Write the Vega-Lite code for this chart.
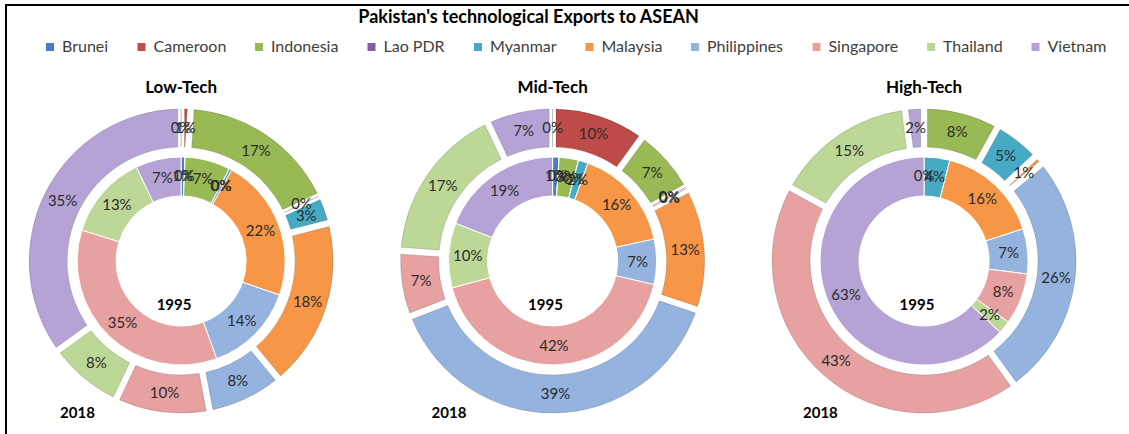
{
  "$schema": "https://vega.github.io/schema/vega-lite/v6.json",
  "width": 1127,
  "height": 512,
  "autosize": "none",
  "padding": {"left": 6, "top": 5, "right": -4, "bottom": -83},
  "background": "#ffffff",
  "config": {"font": "Lato", "view": {"stroke": "#000000", "strokeWidth": 2}},
  "datasets": {
    "shares": [
      {"tech": "Low-Tech", "year": "1995", "country": "Brunei", "n": 1, "share": 0.006},
      {"tech": "Low-Tech", "year": "1995", "country": "Cameroon", "n": 2, "share": 0},
      {"tech": "Low-Tech", "year": "1995", "country": "Indonesia", "n": 3, "share": 0.07},
      {"tech": "Low-Tech", "year": "1995", "country": "Lao PDR", "n": 4, "share": 0},
      {"tech": "Low-Tech", "year": "1995", "country": "Myanmar", "n": 5, "share": 0.004},
      {"tech": "Low-Tech", "year": "1995", "country": "Malaysia", "n": 6, "share": 0.22},
      {"tech": "Low-Tech", "year": "1995", "country": "Philippines", "n": 7, "share": 0.14},
      {"tech": "Low-Tech", "year": "1995", "country": "Singapore", "n": 8, "share": 0.35},
      {"tech": "Low-Tech", "year": "1995", "country": "Thailand", "n": 9, "share": 0.13},
      {"tech": "Low-Tech", "year": "1995", "country": "Vietnam", "n": 10, "share": 0.07},
      {"tech": "Low-Tech", "year": "2018", "country": "Brunei", "n": 1, "share": 0},
      {"tech": "Low-Tech", "year": "2018", "country": "Cameroon", "n": 2, "share": 0.01},
      {"tech": "Low-Tech", "year": "2018", "country": "Indonesia", "n": 3, "share": 0.17},
      {"tech": "Low-Tech", "year": "2018", "country": "Lao PDR", "n": 4, "share": 0},
      {"tech": "Low-Tech", "year": "2018", "country": "Myanmar", "n": 5, "share": 0.03},
      {"tech": "Low-Tech", "year": "2018", "country": "Malaysia", "n": 6, "share": 0.18},
      {"tech": "Low-Tech", "year": "2018", "country": "Philippines", "n": 7, "share": 0.08},
      {"tech": "Low-Tech", "year": "2018", "country": "Singapore", "n": 8, "share": 0.10},
      {"tech": "Low-Tech", "year": "2018", "country": "Thailand", "n": 9, "share": 0.08},
      {"tech": "Low-Tech", "year": "2018", "country": "Vietnam", "n": 10, "share": 0.35},
      {"tech": "Mid-Tech", "year": "1995", "country": "Brunei", "n": 1, "share": 0.01},
      {"tech": "Mid-Tech", "year": "1995", "country": "Cameroon", "n": 2, "share": 0},
      {"tech": "Mid-Tech", "year": "1995", "country": "Indonesia", "n": 3, "share": 0.03},
      {"tech": "Mid-Tech", "year": "1995", "country": "Lao PDR", "n": 4, "share": 0},
      {"tech": "Mid-Tech", "year": "1995", "country": "Myanmar", "n": 5, "share": 0.015},
      {"tech": "Mid-Tech", "year": "1995", "country": "Malaysia", "n": 6, "share": 0.16},
      {"tech": "Mid-Tech", "year": "1995", "country": "Philippines", "n": 7, "share": 0.07},
      {"tech": "Mid-Tech", "year": "1995", "country": "Singapore", "n": 8, "share": 0.42},
      {"tech": "Mid-Tech", "year": "1995", "country": "Thailand", "n": 9, "share": 0.10},
      {"tech": "Mid-Tech", "year": "1995", "country": "Vietnam", "n": 10, "share": 0.19},
      {"tech": "Mid-Tech", "year": "2018", "country": "Brunei", "n": 1, "share": 0},
      {"tech": "Mid-Tech", "year": "2018", "country": "Cameroon", "n": 2, "share": 0.10},
      {"tech": "Mid-Tech", "year": "2018", "country": "Indonesia", "n": 3, "share": 0.07},
      {"tech": "Mid-Tech", "year": "2018", "country": "Lao PDR", "n": 4, "share": 0},
      {"tech": "Mid-Tech", "year": "2018", "country": "Myanmar", "n": 5, "share": 0.003},
      {"tech": "Mid-Tech", "year": "2018", "country": "Malaysia", "n": 6, "share": 0.13},
      {"tech": "Mid-Tech", "year": "2018", "country": "Philippines", "n": 7, "share": 0.39},
      {"tech": "Mid-Tech", "year": "2018", "country": "Singapore", "n": 8, "share": 0.07},
      {"tech": "Mid-Tech", "year": "2018", "country": "Thailand", "n": 9, "share": 0.17},
      {"tech": "Mid-Tech", "year": "2018", "country": "Vietnam", "n": 10, "share": 0.07},
      {"tech": "High-Tech", "year": "1995", "country": "Indonesia", "n": 3, "share": 0},
      {"tech": "High-Tech", "year": "1995", "country": "Myanmar", "n": 5, "share": 0.04},
      {"tech": "High-Tech", "year": "1995", "country": "Malaysia", "n": 6, "share": 0.16},
      {"tech": "High-Tech", "year": "1995", "country": "Philippines", "n": 7, "share": 0.07},
      {"tech": "High-Tech", "year": "1995", "country": "Singapore", "n": 8, "share": 0.08},
      {"tech": "High-Tech", "year": "1995", "country": "Thailand", "n": 9, "share": 0.02},
      {"tech": "High-Tech", "year": "1995", "country": "Vietnam", "n": 10, "share": 0.63},
      {"tech": "High-Tech", "year": "2018", "country": "Indonesia", "n": 3, "share": 0.08},
      {"tech": "High-Tech", "year": "2018", "country": "Myanmar", "n": 5, "share": 0.05},
      {"tech": "High-Tech", "year": "2018", "country": "Malaysia", "n": 6, "share": 0.01},
      {"tech": "High-Tech", "year": "2018", "country": "Philippines", "n": 7, "share": 0.26},
      {"tech": "High-Tech", "year": "2018", "country": "Singapore", "n": 8, "share": 0.43},
      {"tech": "High-Tech", "year": "2018", "country": "Thailand", "n": 9, "share": 0.15},
      {"tech": "High-Tech", "year": "2018", "country": "Vietnam", "n": 10, "share": 0.02}
    ],
    "panels": [
      {"tech": "Low-Tech"},
      {"tech": "Mid-Tech"},
      {"tech": "High-Tech"}
    ],
    "heading": [
      {"heading": "Pakistan's technological  Exports to ASEAN"}
    ]
  },
  "data": {"name": "shares"},
  "encoding": {
    "x": {"field": "tech", "type": "nominal", "axis": null, "scale": {"type": "point", "domain": ["Low-Tech", "Mid-Tech", "High-Tech"], "padding": 0.517, "align": 0.456}},
    "color": {
      "field": "country", "type": "nominal",
      "scale": {
        "domain": ["Brunei", "Cameroon", "Indonesia", "Lao PDR", "Myanmar", "Malaysia", "Philippines", "Singapore", "Thailand", "Vietnam"],
        "range": ["#4A7EBB", "#BE4B48", "#98B954", "#7D60A0", "#46AAC5", "#F79646", "#94B3DF", "#E6A1A0", "#BDD896", "#B6A3D6"]
      },
      "legend": {"orient": "none", "legendX": 36, "legendY": 34, "direction": "horizontal", "title": null, "symbolType": "square", "symbolSize": 64, "symbolStrokeWidth": 0, "labelFont": "Lato", "labelFontSize": 16, "labelColor": "#404040", "labelOffset": 4, "columnPadding": 24.5, "padding": 0}
    }
  },
  "layer": [
    {
      "transform": [{"filter": "datum.tech === 'Low-Tech' && datum.year === '1995'"}],
      "encoding": {"theta": {"field": "share", "type": "quantitative", "stack": "normalize"}, "order": {"field": "n", "type": "quantitative"}},
      "layer": [
        {"mark": {"type": "arc", "radius": 104, "radius2": 65, "stroke": "#ffffff", "strokeWidth": 1}},
        {"mark": {"type": "text", "radius": 85, "fontSize": 15}, "encoding": {"color": {"value": "#2b2b2b"}, "detail": {"field": "country"}, "text": {"field": "share", "type": "quantitative", "format": ".0%"}}}
      ]
    },
    {
      "transform": [{"filter": "datum.tech === 'Low-Tech' && datum.year === '2018'"}],
      "encoding": {"theta": {"field": "share", "type": "quantitative", "stack": "normalize"}, "order": {"field": "n", "type": "quantitative"}},
      "layer": [
        {"mark": {"type": "arc", "radius": 152, "radius2": 114, "padAngle": 0.036, "stroke": "#000000", "strokeOpacity": 0.15, "strokeWidth": 1}},
        {"mark": {"type": "text", "radius": 133, "fontSize": 15}, "encoding": {"color": {"value": "#2b2b2b"}, "detail": {"field": "country"}, "text": {"field": "share", "type": "quantitative", "format": ".0%"}}}
      ]
    },
    {
      "transform": [{"filter": "datum.tech === 'Mid-Tech' && datum.year === '1995'"}],
      "encoding": {"theta": {"field": "share", "type": "quantitative", "stack": "normalize"}, "order": {"field": "n", "type": "quantitative"}},
      "layer": [
        {"mark": {"type": "arc", "radius": 104, "radius2": 65, "stroke": "#ffffff", "strokeWidth": 1}},
        {"mark": {"type": "text", "radius": 85, "fontSize": 15}, "encoding": {"color": {"value": "#2b2b2b"}, "detail": {"field": "country"}, "text": {"field": "share", "type": "quantitative", "format": ".0%"}}}
      ]
    },
    {
      "transform": [{"filter": "datum.tech === 'Mid-Tech' && datum.year === '2018'"}],
      "encoding": {"theta": {"field": "share", "type": "quantitative", "stack": "normalize"}, "order": {"field": "n", "type": "quantitative"}},
      "layer": [
        {"mark": {"type": "arc", "radius": 152, "radius2": 114, "padAngle": 0.036, "stroke": "#000000", "strokeOpacity": 0.15, "strokeWidth": 1}},
        {"mark": {"type": "text", "radius": 133, "fontSize": 15}, "encoding": {"color": {"value": "#2b2b2b"}, "detail": {"field": "country"}, "text": {"field": "share", "type": "quantitative", "format": ".0%"}}}
      ]
    },
    {
      "transform": [{"filter": "datum.tech === 'High-Tech' && datum.year === '1995'"}],
      "encoding": {"theta": {"field": "share", "type": "quantitative", "stack": "normalize"}, "order": {"field": "n", "type": "quantitative"}},
      "layer": [
        {"mark": {"type": "arc", "radius": 104, "radius2": 65, "stroke": "#ffffff", "strokeWidth": 1}},
        {"mark": {"type": "text", "radius": 85, "fontSize": 15}, "encoding": {"color": {"value": "#2b2b2b"}, "detail": {"field": "country"}, "text": {"field": "share", "type": "quantitative", "format": ".0%"}}}
      ]
    },
    {
      "transform": [{"filter": "datum.tech === 'High-Tech' && datum.year === '2018'"}],
      "encoding": {"theta": {"field": "share", "type": "quantitative", "stack": "normalize"}, "order": {"field": "n", "type": "quantitative"}},
      "layer": [
        {"mark": {"type": "arc", "radius": 152, "radius2": 114, "padAngle": 0.036, "stroke": "#000000", "strokeOpacity": 0.15, "strokeWidth": 1}},
        {"mark": {"type": "text", "radius": 133, "fontSize": 15}, "encoding": {"color": {"value": "#2b2b2b"}, "detail": {"field": "country"}, "text": {"field": "share", "type": "quantitative", "format": ".0%"}}}
      ]
    },
    {
      "data": {"name": "panels"},
      "mark": {"type": "text", "radius": 173, "theta": 0, "fontSize": 17, "fontWeight": "bold"},
      "encoding": {"text": {"field": "tech"}, "color": {"value": "#000000"}}
    },
    {
      "data": {"name": "panels"},
      "mark": {"type": "text", "radius": 45, "theta": 3.3, "fontSize": 15, "fontWeight": "bold"},
      "encoding": {"text": {"value": "1995"}, "color": {"value": "#000000"}}
    },
    {
      "data": {"name": "panels"},
      "mark": {"type": "text", "radius": 184, "theta": 3.74, "fontSize": 15, "fontWeight": "bold"},
      "encoding": {"text": {"value": "2018"}, "color": {"value": "#000000"}}
    },
    {
      "data": {"name": "heading"},
      "mark": {"type": "text", "radius": 243, "theta": 0, "dx": -24, "fontSize": 18, "fontWeight": "bold"},
      "encoding": {"x": {"datum": "Mid-Tech", "type": "nominal"}, "text": {"field": "heading"}, "color": {"value": "#000000"}}
    }
  ]
}
